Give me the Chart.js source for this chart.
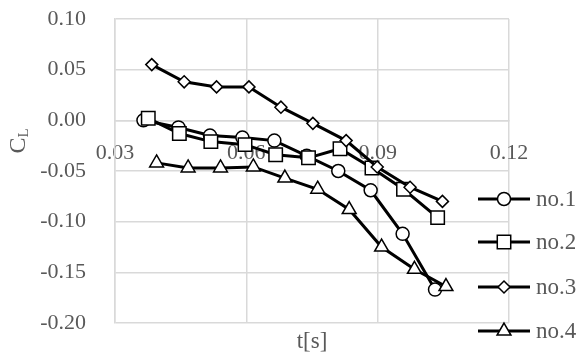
<!DOCTYPE html>
<html>
<head>
<meta charset="utf-8">
<script src="https://cdn.jsdelivr.net/npm/chart.js@4"></script>
<style>
  html, body { margin: 0; padding: 0; background: #fff; }
  #wrap { width: 583px; height: 355px; }
</style>
</head>
<body>
<div id="wrap"><canvas id="grafico" width="583" height="355"></canvas></div>
<script>
// datos
var t1 = [0.0365, 0.0445, 0.0517, 0.0591, 0.0664, 0.0738, 0.0810, 0.0884, 0.0957, 0.1031];
var cl1 = [0.000, -0.007, -0.015, -0.017, -0.020, -0.035, -0.050, -0.069, -0.112, -0.167];
var t2 = [0.0376, 0.0447, 0.0519, 0.0597, 0.0667, 0.0742, 0.0814, 0.0887, 0.0959, 0.1037];
var cl2 = [0.002, -0.013, -0.021, -0.024, -0.034, -0.037, -0.028, -0.047, -0.068, -0.096];
var t3 = [0.0384, 0.0458, 0.0532, 0.0606, 0.0679, 0.0752, 0.0828, 0.0899, 0.0974, 0.1048];
var cl3 = [0.055, 0.038, 0.033, 0.033, 0.013, -0.003, -0.020, -0.046, -0.066, -0.080];
var t4 = [0.0395, 0.0467, 0.0541, 0.0616, 0.0688, 0.0763, 0.0835, 0.0909, 0.0984, 0.1056];
var cl4 = [-0.042, -0.047, -0.047, -0.046, -0.057, -0.068, -0.088, -0.125, -0.147, -0.164];

var nombres = ["no.1", "no.2", "no.3", "no.4"];
var xTicks = [0.03, 0.06, 0.09, 0.12];
var yTicks = [-0.20, -0.15, -0.10, -0.05, 0.00, 0.05, 0.10];

var gris = "#595959";
var rejilla = "#d9d9d9";
var fuente = "'Liberation Serif', 'Times New Roman', serif";

function puntos(ts, cs) {
    var p = [];
    for (var i = 0; i < ts.length; i++) p.push({x: ts[i], y: cs[i]});
    return p;
}

function serie(i, ts, cs, estilo, radio) {
    return {
        label: nombres[i],
        data: puntos(ts, cs),
        showLine: true,
        borderColor: "#000",
        borderWidth: 3,
        pointStyle: estilo,
        pointRadius: radio,
        pointHoverRadius: radio,
        pointBackgroundColor: "#fff",
        pointBorderColor: "#000",
        pointBorderWidth: 1.5,
        order: 4 - i
    };
}

// titulos y leyenda dibujados a mano
var extras = {
    id: "extras",
    afterDraw: function(chart) {
        var ctx = chart.ctx;
        var area = chart.chartArea;
        ctx.save();
        ctx.fillStyle = gris;

        // C_L
        ctx.translate(19, 141);
        ctx.rotate(-Math.PI / 2);
        ctx.textBaseline = "middle";
        ctx.textAlign = "left";
        ctx.font = "24px " + fuente;
        var wc = ctx.measureText("C").width;
        ctx.font = "15px " + fuente;
        var wl = ctx.measureText("L").width;
        var x0 = -(wc + wl) / 2;
        ctx.font = "24px " + fuente;
        ctx.fillText("C", x0, 0);
        ctx.font = "15px " + fuente;
        ctx.fillText("L", x0 + wc, 5);
        ctx.setTransform(1, 0, 0, 1, 0, 0);

        // t[s]
        ctx.font = "23px " + fuente;
        ctx.textAlign = "center";
        ctx.textBaseline = "middle";
        ctx.fillText("t[s]", (area.left + area.right) / 2, 342);

        // leyenda
        var ys = [199, 242, 287, 331];
        chart.data.datasets.forEach(function(ds, i) {
            var y = ys[i];
            ctx.strokeStyle = "#000";
            ctx.lineWidth = 3;
            ctx.beginPath();
            ctx.moveTo(478, y);
            ctx.lineTo(530, y);
            ctx.stroke();
            ctx.fillStyle = "#fff";
            ctx.lineWidth = 1.5;
            Chart.helpers.drawPoint(ctx, {
                pointStyle: ds.pointStyle,
                radius: ds.pointRadius,
                borderWidth: 1.5,
                rotation: 0
            }, 504, y);
            ctx.fillStyle = gris;
            ctx.font = "23px " + fuente;
            ctx.textAlign = "left";
            ctx.textBaseline = "middle";
            ctx.fillText(ds.label, 536, y + 1);
        });
        ctx.restore();
    }
};

var ctx = document.getElementById("grafico").getContext("2d");
window.myChart = new Chart(ctx, {
    type: "scatter",
    data: {
        datasets: [
            serie(0, t1, cl1, "circle", 6.5),
            serie(1, t2, cl2, "rect", 9.5),
            serie(2, t3, cl3, "rectRot", 6),
            serie(3, t4, cl4, "triangle", 8)
        ]
    },
    options: {
        responsive: false,
        animation: false,
        layout: { padding: { left: 0, right: 74, top: 19, bottom: 32 } },
        plugins: {
            legend: { display: false },
            tooltip: { enabled: false }
        },
        scales: {
            x: {
                type: "linear",
                position: { y: 0 },
                min: 0.03,
                max: 0.12,
                afterBuildTicks: function(s) { s.ticks = xTicks.map(function(v) { return {value: v}; }); },
                afterFit: function(s) {
                    s.height = 0;
                    s.paddingTop = 0;
                    s.paddingBottom = 0;
                    s.paddingLeft = 0;
                    s.paddingRight = 0;
                },
                ticks: {
                    color: gris,
                    font: { family: fuente, size: 22 },
                    padding: 20,
                    maxRotation: 0,
                    callback: function(v) { return v.toFixed(2); }
                },
                grid: { color: rejilla, lineWidth: 1.5, drawTicks: false },
                border: { color: rejilla, width: 1.5 }
            },
            y: {
                min: -0.20,
                max: 0.10,
                afterBuildTicks: function(s) { s.ticks = yTicks.map(function(v) { return {value: v}; }); },
                afterFit: function(s) {
                    s.width = 115;
                    s.paddingTop = 0;
                    s.paddingBottom = 0;
                },
                ticks: {
                    color: gris,
                    font: { family: fuente, size: 22 },
                    padding: 29,
                    callback: function(v) { return v.toFixed(2); }
                },
                grid: { color: rejilla, lineWidth: 1.5, drawTicks: false },
                border: { color: rejilla, width: 1.5 }
            }
        }
    },
    plugins: [extras]
});
</script>
</body>
</html>
